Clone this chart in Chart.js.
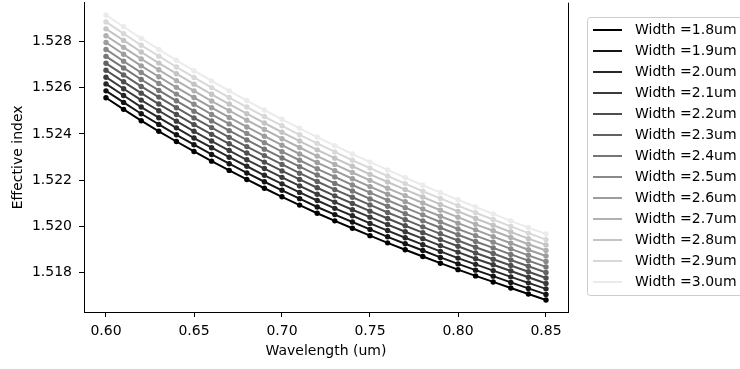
<!DOCTYPE html>
<html>
<head>
<meta charset="utf-8">
<script src="https://cdn.jsdelivr.net/npm/chart.js@4.4.1/dist/chart.umd.min.js"></script>
<style>
  html, body { margin: 0; padding: 0; background: #fff; }
  #wrap { width: 740px; height: 369px; }
</style>
</head>
<body>
<div id="wrap"><canvas id="neffChart" width="740" height="369"></canvas></div>
<script>
// Data
const wavelengths = [0.60, 0.61, 0.62, 0.63, 0.64, 0.65, 0.66, 0.67, 0.68, 0.69, 0.70, 0.71, 0.72,
  0.73, 0.74, 0.75, 0.76, 0.77, 0.78, 0.79, 0.80, 0.81, 0.82, 0.83, 0.84, 0.85];
const widths = ["1.8", "1.9", "2.0", "2.1", "2.2", "2.3", "2.4", "2.5", "2.6", "2.7", "2.8", "2.9", "3.0"];
const xTicks = [0.60, 0.65, 0.70, 0.75, 0.80, 0.85];
const yTicks = [1.518, 1.520, 1.522, 1.524, 1.526, 1.528];

const n18 = [1.52556, 1.52506, 1.52457, 1.52411, 1.52367, 1.52324, 1.52282, 1.52242, 1.52203, 1.52165, 1.52128, 1.52092, 1.52057,
  1.52024, 1.51992, 1.51960, 1.51929, 1.51899, 1.51870, 1.51841, 1.51813, 1.51786, 1.51760, 1.51734, 1.51708, 1.51682];
const n19 = [1.52586, 1.52536, 1.52487, 1.52441, 1.52396, 1.52353, 1.52311, 1.52271, 1.52231, 1.52193, 1.52156, 1.52120, 1.52084,
  1.52051, 1.52019, 1.51987, 1.51955, 1.51925, 1.51896, 1.51866, 1.51838, 1.51811, 1.51785, 1.51758, 1.51732, 1.51706];
const n20 = [1.52616, 1.52566, 1.52516, 1.52470, 1.52426, 1.52382, 1.52340, 1.52299, 1.52260, 1.52221, 1.52184, 1.52147, 1.52112,
  1.52078, 1.52046, 1.52013, 1.51982, 1.51951, 1.51921, 1.51892, 1.51863, 1.51836, 1.51809, 1.51782, 1.51756, 1.51730];
const n21 = [1.52645, 1.52595, 1.52546, 1.52500, 1.52455, 1.52411, 1.52369, 1.52328, 1.52288, 1.52250, 1.52212, 1.52175, 1.52139,
  1.52105, 1.52072, 1.52040, 1.52008, 1.51977, 1.51947, 1.51917, 1.51889, 1.51860, 1.51834, 1.51807, 1.51780, 1.51753];
const n22 = [1.52675, 1.52625, 1.52576, 1.52529, 1.52484, 1.52440, 1.52398, 1.52357, 1.52317, 1.52278, 1.52240, 1.52203, 1.52167,
  1.52132, 1.52099, 1.52066, 1.52034, 1.52003, 1.51973, 1.51943, 1.51914, 1.51885, 1.51858, 1.51831, 1.51804, 1.51777];
const n23 = [1.52705, 1.52655, 1.52605, 1.52559, 1.52513, 1.52469, 1.52427, 1.52385, 1.52345, 1.52306, 1.52268, 1.52230, 1.52194,
  1.52159, 1.52126, 1.52093, 1.52060, 1.52029, 1.51998, 1.51968, 1.51939, 1.51910, 1.51883, 1.51855, 1.51828, 1.51801];
const n24 = [1.52735, 1.52685, 1.52635, 1.52588, 1.52543, 1.52498, 1.52456, 1.52414, 1.52374, 1.52334, 1.52296, 1.52258, 1.52222,
  1.52186, 1.52153, 1.52119, 1.52087, 1.52055, 1.52024, 1.51994, 1.51964, 1.51935, 1.51907, 1.51879, 1.51852, 1.51825];
const n25 = [1.52765, 1.52714, 1.52665, 1.52618, 1.52572, 1.52528, 1.52484, 1.52443, 1.52402, 1.52362, 1.52323, 1.52286, 1.52249,
  1.52214, 1.52179, 1.52146, 1.52113, 1.52081, 1.52050, 1.52019, 1.51989, 1.51960, 1.51932, 1.51903, 1.51875, 1.51848];
const n26 = [1.52795, 1.52744, 1.52694, 1.52647, 1.52601, 1.52557, 1.52513, 1.52471, 1.52430, 1.52390, 1.52351, 1.52313, 1.52276,
  1.52241, 1.52206, 1.52172, 1.52139, 1.52107, 1.52075, 1.52044, 1.52014, 1.51985, 1.51956, 1.51927, 1.51899, 1.51872];
const n27 = [1.52824, 1.52774, 1.52724, 1.52677, 1.52630, 1.52586, 1.52542, 1.52500, 1.52459, 1.52419, 1.52379, 1.52341, 1.52304,
  1.52268, 1.52233, 1.52199, 1.52165, 1.52133, 1.52101, 1.52070, 1.52040, 1.52009, 1.51981, 1.51952, 1.51923, 1.51896];
const n28 = [1.52854, 1.52804, 1.52754, 1.52706, 1.52660, 1.52615, 1.52571, 1.52529, 1.52487, 1.52447, 1.52407, 1.52369, 1.52331,
  1.52295, 1.52260, 1.52225, 1.52192, 1.52159, 1.52127, 1.52095, 1.52065, 1.52034, 1.52005, 1.51976, 1.51947, 1.51920];
const n29 = [1.52884, 1.52833, 1.52783, 1.52736, 1.52689, 1.52644, 1.52600, 1.52557, 1.52516, 1.52475, 1.52435, 1.52396, 1.52359,
  1.52322, 1.52286, 1.52252, 1.52218, 1.52185, 1.52152, 1.52121, 1.52090, 1.52059, 1.52030, 1.52000, 1.51971, 1.51943];
const n30 = [1.52914, 1.52863, 1.52813, 1.52765, 1.52718, 1.52673, 1.52629, 1.52586, 1.52544, 1.52503, 1.52463, 1.52424, 1.52386,
  1.52349, 1.52313, 1.52278, 1.52244, 1.52211, 1.52178, 1.52146, 1.52115, 1.52084, 1.52054, 1.52024, 1.51995, 1.51967];

const neffSeries = [n18, n19, n20, n21, n22, n23, n24, n25, n26, n27, n28, n29, n30];

const FONT = "'DejaVu Sans', 'Liberation Sans', sans-serif";
const FONT_SIZE = 14;

function grayFor(i) {
  const g = Math.round(255 * i / 13);
  return `rgb(${g}, ${g}, ${g})`;
}

const datasets = neffSeries.map((vals, i) => ({
  label: "Width =" + widths[i] + "um",
  data: vals.map((v, j) => ({ x: wavelengths[j], y: v })),
  borderColor: grayFor(i),
  backgroundColor: grayFor(i),
  borderWidth: 2,
  pointRadius: 2.7,
  pointBorderWidth: 0,
  pointHoverRadius: 2.7,
  tension: 0,
  order: neffSeries.length - i, // later widths on top, like matplotlib
}));

// right spine (no top spine, it is cropped in the reference)
const frameRight = {
  id: "frameRight",
  afterDraw(chart) {
    const { ctx, chartArea } = chart;
    ctx.save();
    ctx.strokeStyle = "#000";
    ctx.lineWidth = 1;
    ctx.beginPath();
    ctx.moveTo(Math.round(chartArea.right) + 0.5, chartArea.top);
    ctx.lineTo(Math.round(chartArea.right) + 0.5, chartArea.bottom + 0.5);
    ctx.stroke();
    ctx.restore();
  },
};

// matplotlib-style legend box to the right
const sideLegend = {
  id: "sideLegend",
  afterDraw(chart) {
    const { ctx } = chart;
    const x0 = 587, y0 = 17, w = 200, h = 278, r = 3;
    ctx.save();
    ctx.fillStyle = "rgba(255,255,255,0.8)";
    ctx.strokeStyle = "#cccccc";
    ctx.lineWidth = 1;
    ctx.beginPath();
    ctx.moveTo(x0 + 0.5 + r, y0 + 0.5);
    ctx.lineTo(x0 + w, y0 + 0.5);
    ctx.lineTo(x0 + w, y0 + h + 0.5);
    ctx.lineTo(x0 + 0.5 + r, y0 + h + 0.5);
    ctx.arcTo(x0 + 0.5, y0 + h + 0.5, x0 + 0.5, y0 + h + 0.5 - r, r);
    ctx.lineTo(x0 + 0.5, y0 + 0.5 + r);
    ctx.arcTo(x0 + 0.5, y0 + 0.5, x0 + 0.5 + r, y0 + 0.5, r);
    ctx.closePath();
    ctx.fill();
    ctx.stroke();
    ctx.font = FONT_SIZE + "px " + FONT;
    ctx.textBaseline = "middle";
    ctx.textAlign = "left";
    chart.data.datasets.forEach((ds, i) => {
      const y = 30 + i * 21;
      ctx.strokeStyle = ds.borderColor;
      ctx.lineWidth = 2;
      ctx.beginPath();
      ctx.moveTo(593, y);
      ctx.lineTo(622, y);
      ctx.stroke();
      ctx.fillStyle = "#000";
      ctx.fillText(ds.label, 635, y);
    });
    ctx.restore();
  },
};

Chart.defaults.font.family = FONT;
Chart.defaults.font.size = FONT_SIZE;
Chart.defaults.color = "#000";

new Chart(document.getElementById("neffChart"), {
  type: "line",
  data: { datasets },
  options: {
    responsive: false,
    animation: false,
    events: [],
    layout: { padding: { left: 0, right: 172, top: 0, bottom: 0 } },
    plugins: { legend: { display: false }, tooltip: { enabled: false } },
    scales: {
      x: {
        type: "linear",
        min: 0.5875,
        max: 0.8625,
        afterBuildTicks: (scale) => { scale.ticks = xTicks.map((v) => ({ value: v })); },
        afterFit: (scale) => {
          scale.height = 57;
          scale.paddingLeft = 0;
          scale.paddingRight = 0;
        },
        ticks: { callback: (v) => Number(v).toFixed(2), padding: 6, maxRotation: 0 },
        grid: { drawOnChartArea: false, drawTicks: true, tickLength: 5, tickColor: "#000" },
        border: { display: true, color: "#000", width: 1 },
        title: { display: true, text: "Wavelength (um)", padding: { top: 0, bottom: 9 } },
      },
      y: {
        type: "linear",
        min: 1.5163,
        max: 1.52967,
        afterBuildTicks: (scale) => { scale.ticks = yTicks.map((v) => ({ value: v })); },
        afterFit: (scale) => {
          scale.width = 84;
          scale.paddingTop = 0;
          scale.paddingBottom = 0;
        },
        ticks: { callback: (v) => Number(v).toFixed(3), padding: 7 },
        grid: { drawOnChartArea: false, drawTicks: true, tickLength: 5, tickColor: "#000" },
        border: { display: true, color: "#000", width: 1 },
        title: { display: true, text: "Effective index", padding: { top: 10, bottom: 0 } },
      },
    },
  },
  plugins: [frameRight, sideLegend],
});
</script>
</body>
</html>
